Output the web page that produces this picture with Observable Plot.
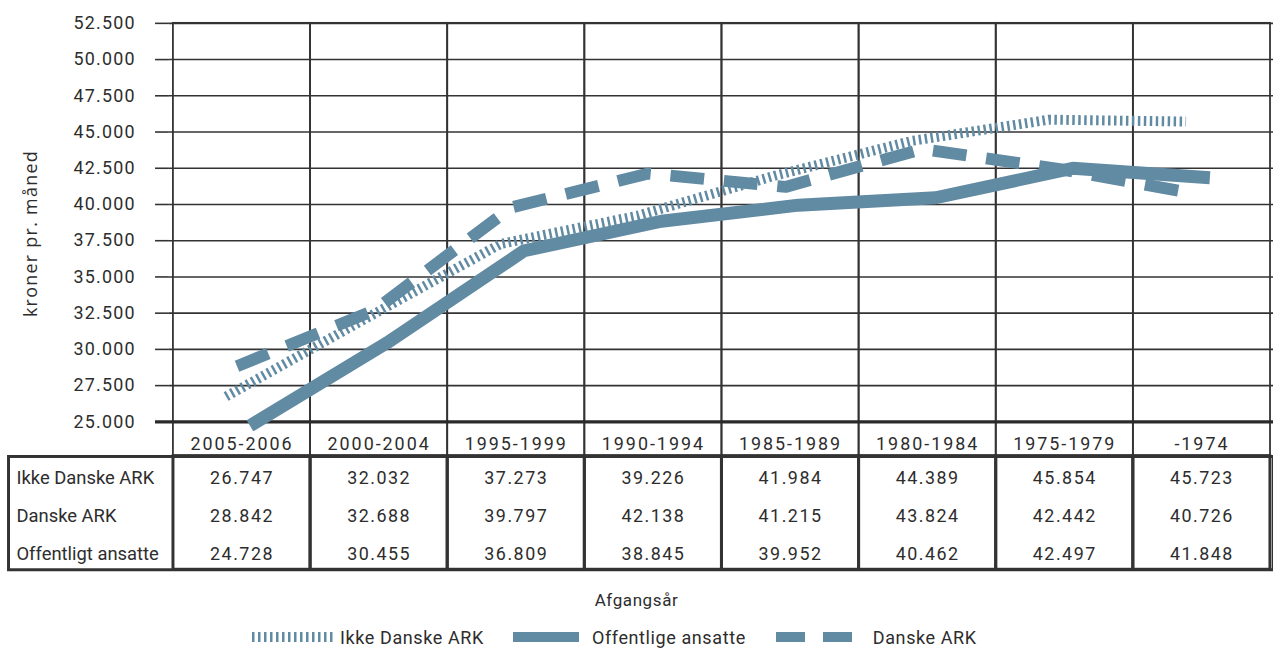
<!DOCTYPE html>
<html>
<head>
<meta charset="utf-8">
<script src="https://cdn.jsdelivr.net/npm/d3@7"></script>
<script src="https://cdn.jsdelivr.net/npm/@observablehq/plot@0.6"></script>
<style>
  html, body { margin: 0; padding: 0; background: #fff; overflow: hidden; width: 1273px; height: 650px; }
  body { font-family: Roboto, "Noto Sans", sans-serif; color: #2d2d2d; }
  #chart svg, #table svg { display: block; }
  #table { margin-top: -3px; }
  #xlabel { margin-top: 19px; height: 20px; line-height: 20px; text-align: center; font-size: 17px; letter-spacing: 0.6px; }
  #legend { margin-top: 16px; height: 22px; display: flex; align-items: center; padding-left: 252px; font-size: 18px; letter-spacing: 0.6px; }
  #legend .item { display: flex; align-items: center; }
  #legend svg { display: block; }
</style>
</head>
<body>
<div id="chart"></div>
<div id="table"></div>
<div id="xlabel"></div>
<div id="legend"></div>
<script>
// ---- data ----
const categories = ["2005-2006", "2000-2004", "1995-1999", "1990-1994", "1985-1989", "1980-1984", "1975-1979", "-1974"];
const ikkeDanskeArk = [26747, 32032, 37273, 39226, 41984, 44389, 45854, 45723];
const danskeArk = [28842, 32688, 39797, 42138, 41215, 43824, 42442, 40726];
const offentligtAnsatte = [24728, 30455, 36809, 38845, 39952, 40462, 42497, 41848];
const tableRowNames = ["Ikke Danske ARK", "Danske ARK", "Offentligt ansatte"];
const legendNames = ["Ikke Danske ARK", "Offentlige ansatte", "Danske ARK"];
const yTicks = [25000, 27500, 30000, 32500, 35000, 37500, 40000, 42500, 45000, 47500, 50000, 52500];
const yLabel = "kroner pr. måned";
const xLabel = "Afgangsår";

// ---- styles ----
const lineColor = "#618aa3";
const gridColor = "#333333";
const textColor = "#2d2d2d";
const W = 1281;

const da = d3.formatLocale({decimal: ",", thousands: ".", grouping: [3], currency: ["", ""]});
const fmt = da.format(",d");

const toRows = (vals) => categories.map((c, i) => ({c, v: vals[i]}));

const chart = Plot.plot({
  width: W,
  height: 460,
  marginTop: 23,
  marginBottom: 36,
  marginLeft: 170,
  marginRight: 0,
  style: {fontFamily: "Roboto", fontSize: "18px", color: textColor, background: "transparent", overflow: "visible"},
  x: {type: "band", domain: categories, padding: 0, label: null},
  y: {domain: [25000, 52500], label: null},
  marks: [
    Plot.gridY(yTicks, {stroke: gridColor, strokeOpacity: 1, strokeWidth: 1.6}),
    Plot.cell(categories, {x: d => d, fill: "none", stroke: gridColor, strokeWidth: 1.8, insetBottom: -34}),
    Plot.axisY(yTicks, {
      tickSize: 14, tickPadding: 20, tickFormat: fmt, stroke: gridColor, strokeWidth: 1.6,
      fontSize: 18, label: yLabel, labelAnchor: "center", labelArrow: "none", labelOffset: 146
    }),
    Plot.ruleY([25000], {stroke: "#2a2a2a", strokeWidth: 3.4, insetLeft: -14}),
    Plot.axisX({tickSize: 0, tickPadding: 16, label: null, fontSize: 18}),
    Plot.line(toRows(ikkeDanskeArk), {x: "c", y: "v", stroke: lineColor, strokeWidth: 10, strokeDasharray: "2.5,3.5", strokeLinecap: "butt", strokeLinejoin: "miter", dx: -16}),
    Plot.line(toRows(offentligtAnsatte), {x: "c", y: "v", stroke: lineColor, strokeWidth: 13, strokeLinejoin: "miter", strokeLinecap: "butt", dx: 8}),
    Plot.line(toRows(danskeArk), {x: "c", y: "v", stroke: lineColor, strokeWidth: 12, strokeDasharray: "34,20", strokeLinecap: "butt", strokeLinejoin: "miter", dx: -5})
  ]
});
document.getElementById("chart").appendChild(chart);
// tweak fonts
chart.querySelectorAll("[aria-label='y-axis tick label'] text").forEach(t => t.style.letterSpacing = "1.2px");
chart.querySelectorAll("[aria-label='x-axis tick label'] text").forEach(t => t.style.letterSpacing = "2px");
const ylab = chart.querySelector("[aria-label='y-axis label'] text");
if (ylab) {
  ylab.style.fontFamily = "'Open Sans', sans-serif";
  ylab.style.fontSize = "18px";
  ylab.style.letterSpacing = "1.3px";
  ylab.setAttribute("dx", "-11");
}

// ---- data table ----
const tableCells = [];
[ikkeDanskeArk, danskeArk, offentligtAnsatte].forEach((vals, r) => {
  categories.forEach((c, i) => tableCells.push({row: tableRowNames[r], c, v: vals[i]}));
});
const table = Plot.plot({
  width: W,
  height: 118,
  marginTop: 2,
  marginBottom: 2,
  marginLeft: 170,
  marginRight: 0,
  style: {fontFamily: "Roboto", fontSize: "18px", color: textColor, background: "transparent", overflow: "visible"},
  x: {type: "band", domain: categories, padding: 0, axis: null},
  y: {type: "band", domain: tableRowNames, padding: 0, axis: null},
  marks: [
    Plot.frame({stroke: gridColor, strokeWidth: 3, insetLeft: -162}),
    Plot.cell(categories, {x: d => d, fill: "none", stroke: gridColor, strokeWidth: 3}),
    Plot.text(tableRowNames, {y: d => d, frameAnchor: "left", textAnchor: "start", dx: -154, fontSize: 18.5, fill: textColor, dy: 3, className: "rowlabel"}),
    Plot.text(tableCells, {x: "c", y: "row", text: d => fmt(d.v), fontSize: 18, fill: textColor, dy: 3, className: "cellval"})
  ]
});
document.getElementById("table").appendChild(table);
table.querySelectorAll(".cellval text").forEach(t => t.style.letterSpacing = "1.5px");
table.querySelectorAll(".rowlabel text").forEach(t => t.style.letterSpacing = "0px");

document.getElementById("xlabel").textContent = xLabel;

// ---- legend ----
const legend = document.getElementById("legend");
const NS = "http://www.w3.org/2000/svg";
function swatch(kind) {
  const s = document.createElementNS(NS, "svg");
  if (kind === "hatch") {
    s.setAttribute("width", 81); s.setAttribute("height", 12);
    const l = document.createElementNS(NS, "line");
    l.setAttribute("x1", 0); l.setAttribute("x2", 81); l.setAttribute("y1", 6); l.setAttribute("y2", 6);
    l.setAttribute("stroke", lineColor); l.setAttribute("stroke-width", 10); l.setAttribute("stroke-dasharray", "2.5,3.5");
    s.appendChild(l);
  } else if (kind === "solid") {
    s.setAttribute("width", 66); s.setAttribute("height", 12);
    const r = document.createElementNS(NS, "rect");
    r.setAttribute("x", 0); r.setAttribute("y", 1); r.setAttribute("width", 66); r.setAttribute("height", 10); r.setAttribute("fill", lineColor);
    s.appendChild(r);
  } else {
    s.setAttribute("width", 76); s.setAttribute("height", 12);
    [0, 47].forEach(x => {
      const r = document.createElementNS(NS, "rect");
      r.setAttribute("x", x); r.setAttribute("y", 1); r.setAttribute("width", 29); r.setAttribute("height", 10); r.setAttribute("fill", lineColor);
      s.appendChild(r);
    });
  }
  return s;
}
const kinds = ["hatch", "solid", "dash"];
const gapsBefore = [7, 13, 21];
const itemGap = [0, 29, 30];
legendNames.forEach((name, i) => {
  const it = document.createElement("div");
  it.className = "item";
  it.style.marginLeft = itemGap[i] + "px";
  it.appendChild(swatch(kinds[i]));
  const sp = document.createElement("span");
  sp.textContent = name;
  sp.style.marginLeft = gapsBefore[i] + "px";
  it.appendChild(sp);
  legend.appendChild(it);
});
</script>
</body>
</html>
